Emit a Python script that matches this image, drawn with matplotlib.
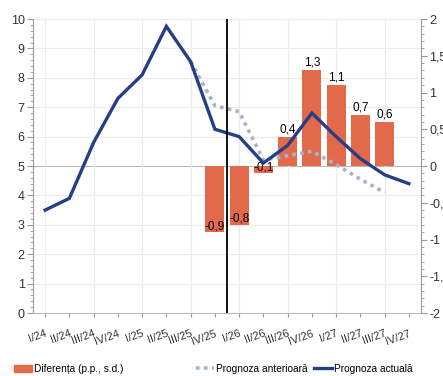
import matplotlib
matplotlib.use("Agg")
import matplotlib.pyplot as plt
import matplotlib.transforms as mtrans
from matplotlib.ticker import MultipleLocator, FuncFormatter
from matplotlib.patches import Patch
from matplotlib.lines import Line2D
import numpy as np

# data
quarters = ["I/24", "II/24", "III/24", "IV/24", "I/25", "II/25", "III/25", "IV/25",
            "I/26", "II/26", "III/26", "IV/26", "I/27", "II/27", "III/27", "IV/27"]
actual = [3.5, 3.9, 5.8, 7.3, 8.1, 9.75, 8.55, 6.25, 6.0, 5.1, 5.7, 6.8, 6.0, 5.25, 4.7, 4.4]
previous = [None, None, None, None, None, None, 8.55, 7.05, 6.85, 5.2, 5.35, 5.5, 5.05, 4.55, 4.1, None]
diff_quarters = ["IV/25", "I/26", "II/26", "III/26", "IV/26", "I/27", "II/27", "III/27"]
diff_values = [-0.9, -0.8, -0.1, 0.4, 1.3, 1.1, 0.7, 0.6]

bar_color = "#E2694A"
blue = "#253F85"
grey_dot = "#A8B3C7"
txt = "#333333"
axc = "#999999"

plt.rcParams["font.family"] = ["Liberation Sans", "DejaVu Sans"]
fs = 8

fig = plt.figure(figsize=(4.43, 3.76), dpi=100)
ax = fig.add_axes([33/443, 1-313/376, 388/443, 294/376])
x = np.arange(len(quarters))
pos = {q: i for i, q in enumerate(quarters)}

# left axis: grid, ticks
ax.set_xlim(-0.5, len(quarters)-0.5)
ax.set_ylim(0, 10)
ax.yaxis.set_major_locator(MultipleLocator(1))
ax.yaxis.set_minor_locator(MultipleLocator(0.2))
ax.set_xticks(x)
ax.set_xticklabels(quarters, rotation=20, ha="right", va="top", rotation_mode="anchor",
                   fontsize=fs, color=txt)
shift = mtrans.ScaledTranslation(3/100, 0, fig.dpi_scale_trans)
for lab in ax.get_xticklabels():
    lab.set_transform(lab.get_transform() + shift)
ax.tick_params(axis="x", length=3, color=axc, pad=8)
ax.tick_params(axis="y", which="major", length=4, color=axc, labelsize=fs+1, labelcolor=txt, pad=2)
ax.tick_params(axis="y", which="minor", length=2, color=axc)
for yv in range(1, 11):
    ax.axhline(yv, color="#bbbbbb" if yv == 5 else "#ececec", lw=0.8, zorder=0)
for i in range(0, len(quarters), 2):
    ax.axvline(i, color="#ececec", lw=0.8, zorder=0)
for s in ["top", "right"]:
    ax.spines[s].set_visible(False)
ax.spines["left"].set_color(axc)
ax.spines["bottom"].set_color("#bbbbbb")

# right axis: bars
ax2 = ax.twinx()
ax2.set_ylim(-2, 2)
ax2.yaxis.set_major_locator(MultipleLocator(0.5))
ax2.yaxis.set_minor_locator(MultipleLocator(0.1))
ax2.yaxis.set_major_formatter(FuncFormatter(lambda v, p: ("%g" % v).replace(".", ",")))
ax2.tick_params(axis="y", which="major", length=4, color=axc, labelsize=fs+1, labelcolor=txt, pad=2)
ax2.tick_params(axis="y", which="minor", length=2, color=axc)
for s in ["top", "left", "bottom"]:
    ax2.spines[s].set_visible(False)
ax2.spines["right"].set_color(axc)
bx = [pos[q] for q in diff_quarters]
bars = ax2.bar(bx, diff_values, width=0.78, color=bar_color, zorder=2)
for xi, v in zip(bx, diff_values):
    lab = ("%.1f" % v).replace(".", ",")
    if v >= 0:
        ax2.text(xi, v + 0.02, lab, ha="center", va="bottom", fontsize=fs+0.5, color="black")
    else:
        ax2.text(xi, v, lab, ha="center", va="bottom", fontsize=fs+0.5, color="black")

# lines on top
ax3 = ax.twinx()
ax3.set_ylim(0, 10)
ax3.set_yticks([])
for s in ax3.spines.values():
    s.set_visible(False)
prev = np.array([np.nan if v is None else v for v in previous], dtype=float)
ax3.plot(x, prev, color=grey_dot, lw=2.6, linestyle=(0, (1, 1.2)))
ax3.plot(x, actual, color=blue, lw=2.4, solid_joinstyle="miter")
ax3.axvline(7.5, color="black", lw=1.3)

# legends
lfs = 7.3
fig.legend([Patch(color=bar_color)], ["Diferența (p.p., s.d.)"], loc="upper left",
           bbox_to_anchor=(14/443, 1-364/376), frameon=False, fontsize=lfs,
           handlelength=1.8, handleheight=0.8, handletextpad=0.2, borderpad=0, borderaxespad=0)
fig.legend([Line2D([], [], color=grey_dot, lw=2.6, linestyle=(0, (1, 1.2))),
            Line2D([], [], color=blue, lw=2.4)],
           ["Prognoza anterioară", "Prognoza actuală"], loc="upper left", ncol=2,
           bbox_to_anchor=(196/443, 1-364/376), frameon=False, fontsize=lfs,
           handlelength=1.8, handletextpad=0.2, columnspacing=0.6, borderpad=0, borderaxespad=0)

fig.savefig("out.png", dpi=100)
